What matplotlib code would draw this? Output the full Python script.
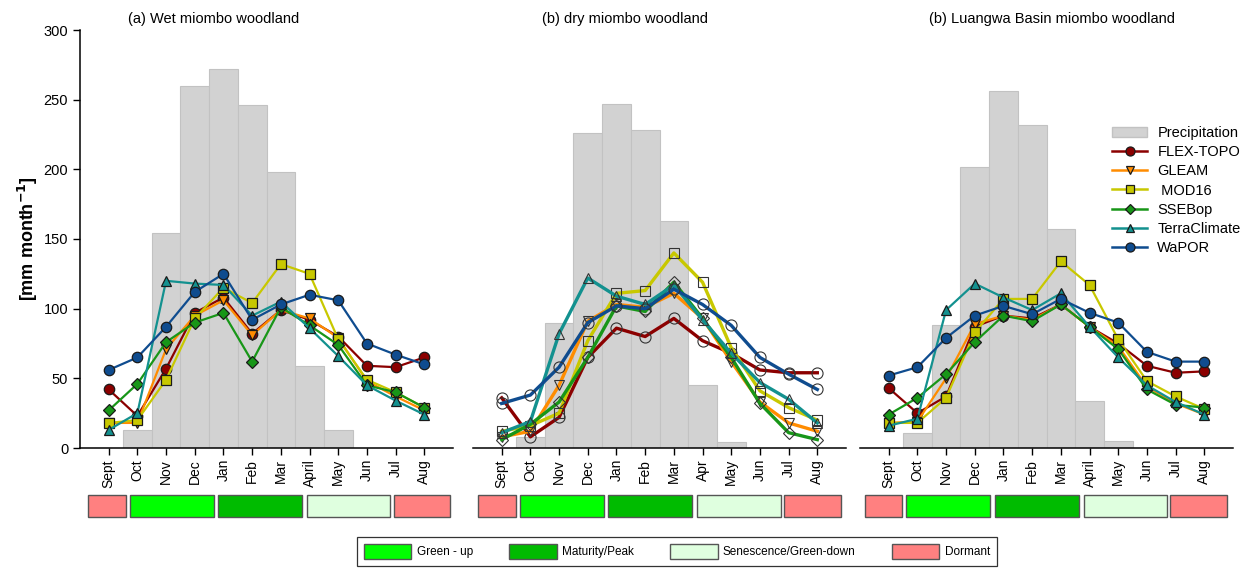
import matplotlib
matplotlib.use("Agg")
import matplotlib.pyplot as plt
from matplotlib.patches import Rectangle, Patch
from matplotlib.lines import Line2D
import numpy as np

plt.rcParams['font.family'] = ['Liberation Sans', 'DejaVu Sans']

# ---------------- data ----------------
months_a = ['Sept', 'Oct', 'Nov', 'Dec', 'Jan', 'Feb', 'Mar', 'April', 'May', 'Jun', 'Jul', 'Aug']
months_b = ['Sept', 'Oct', 'Nov', 'Dec', 'Jan', 'Feb', 'Mar', 'Apr', 'May', 'Jun', 'Jul', 'Aug']
months_c = ['Sept', 'Oct', 'Nov', 'Dec', 'Jan', 'Feb', 'Mar', 'April', 'May', 'Jun', 'Jul', 'Aug']

titles = ['(a) Wet miombo woodland', '(b) dry miombo woodland', '(b) Luangwa Basin miombo woodland']

products = ['FLEX-TOPO', 'GLEAM', ' MOD16', 'SSEBop', 'TerraClimate', 'WaPOR']

precip_a = [0, 13, 154, 260, 272, 246, 198, 59, 13, 0, 0, 0]
precip_b = [0, 8, 90, 226, 247, 228, 163, 45, 4, 0, 0, 0]
precip_c = [0, 11, 88, 202, 256, 232, 157, 34, 5, 0, 0, 0]

# panel (a) wet miombo
flex_a  = [42, 23, 57, 97, 108, 82, 99, 92, 80, 59, 58, 65]
gleam_a = [18, 18, 71, 95, 106, 81, 99, 93, 79, 48, 37, 27]
mod16_a = [18, 20, 49, 93, 115, 104, 132, 125, 78, 49, 40, 29]
ssebop_a = [27, 46, 76, 90, 97, 62, 101, 88, 74, 45, 40, 29]
terra_a = [13, 25, 120, 118, 117, 95, 105, 86, 66, 45, 34, 24]
wapor_a = [56, 65, 87, 112, 125, 92, 103, 110, 106, 75, 67, 60]

# panel (b) dry miombo
flex_b  = [36, 8, 22, 65, 86, 80, 93, 77, 68, 56, 54, 54]
gleam_b = [8, 12, 45, 91, 103, 101, 111, 93, 62, 33, 18, 12]
mod16_b = [12, 16, 25, 77, 111, 113, 140, 119, 72, 41, 29, 20]
ssebop_b = [6, 17, 33, 65, 102, 98, 119, 93, 65, 32, 11, 6]
terra_b = [11, 19, 82, 122, 109, 103, 117, 92, 68, 47, 35, 18]
wapor_b = [32, 38, 58, 90, 102, 100, 114, 103, 88, 65, 53, 42]

# panel (c) Luangwa Basin
flex_c  = [43, 25, 37, 87, 95, 93, 103, 87, 75, 59, 54, 55]
gleam_c = [18, 19, 50, 89, 95, 92, 103, 87, 73, 44, 32, 24]
mod16_c = [18, 18, 36, 83, 107, 107, 134, 117, 78, 48, 37, 28]
ssebop_c = [24, 36, 53, 76, 95, 91, 103, 87, 71, 42, 31, 29]
terra_c = [16, 21, 99, 118, 108, 99, 111, 87, 65, 45, 33, 24]
wapor_c = [52, 58, 79, 95, 102, 96, 107, 97, 90, 69, 62, 62]

phases = ['Green - up', 'Maturity/Peak', 'Senescence/Green-down', 'Dormant']
phase_colors = ['#00FF00', '#00BB00', '#DFFFDF', '#FF8080']
phase_sequence = ['Dormant', 'Green - up', 'Maturity/Peak', 'Senescence/Green-down', 'Dormant']

# ---------------- styles ----------------
colors = ['#8B0000', '#FF8C00', '#C8C800', '#189618', '#13918F', '#0F4C8F']
markers = ['o', 'v', 's', 'D', '^', 'o']
msizes = [7.5, 7, 6.5, 6, 6.5, 7.5]
precip_face = '#D2D2D2'
precip_edge = '#C2C2C2'

W, H = 1255, 573
fig = plt.figure(figsize=(W / 100, H / 100), dpi=100)

def fx(px):
    return px / W

def fy(py):
    return 1 - py / H

ax_lefts = [80, 473, 860]
ax_w = 373
ax_top, ax_bot = 30, 448
strip_top, strip_bot = 495, 517
strip_edges = [(-0.78, 0.54), (0.68, 3.6), (3.76, 6.68), (6.86, 9.76), (9.88, 11.85)]
strip_shift = [0.06, -0.04, -0.06]
title_x = [214, 625, 1052]

panels = [
    (months_a, precip_a, [flex_a, gleam_a, mod16_a, ssebop_a, terra_a, wapor_a], 'filled'),
    (months_b, precip_b, [flex_b, gleam_b, mod16_b, ssebop_b, terra_b, wapor_b], 'hollow'),
    (months_c, precip_c, [flex_c, gleam_c, mod16_c, ssebop_c, terra_c, wapor_c], 'filled'),
]

phase_color_map = dict(zip(phases, phase_colors))

for i, (months, precip, series, style) in enumerate(panels):
    ax = fig.add_axes([fx(ax_lefts[i]), fy(ax_bot), fx(ax_w), (ax_bot - ax_top) / H])
    x = np.arange(len(months))
    ax.bar(x, precip, width=1.0, color=precip_face, edgecolor=precip_edge, linewidth=0.8, zorder=1)
    for k, vals in enumerate(series):
        if style == 'filled':
            ax.plot(x, vals, color=colors[k], lw=1.6, marker=markers[k], ms=msizes[k],
                    mfc=colors[k], mec='#1a1a1a', mew=0.9, zorder=3 + k)
        else:
            ax.plot(x, vals, color=colors[k], lw=2.4, marker=markers[k], ms=msizes[k] + 0.5,
                    mfc='none', mec='#333333', mew=0.8, zorder=3 + k)
    ax.set_xlim(-1, 12)
    ax.set_ylim(0, 300)
    ax.set_xticks(x)
    ax.set_xticklabels(months, rotation=90, fontsize=10)
    ax.tick_params(axis='x', direction='out', length=5, width=1, pad=3)
    for s in ['top', 'right']:
        ax.spines[s].set_visible(False)
    ax.spines['bottom'].set_linewidth(1.1)
    if i == 0:
        ax.set_yticks(np.arange(0, 301, 50))
        ax.tick_params(axis='y', direction='out', length=5, width=1, labelsize=10.5)
        ax.spines['left'].set_linewidth(1.1)
        ax.set_ylabel('[mm month$^{\\mathbf{-1}}$]', fontsize=13, fontweight='bold')
        ax.yaxis.set_label_coords(-0.107, 0.5)
    else:
        ax.spines['left'].set_visible(False)
        ax.set_yticks([])
    ax.set_facecolor('none')
    fig.text(fx(title_x[i]), fy(19), titles[i], ha='center', va='center', fontsize=10.5)

    if i == 2:
        handles = [Patch(facecolor=precip_face, edgecolor=precip_edge, label='Precipitation')]
        for k in range(len(products)):
            handles.append(Line2D([], [], color=colors[k], lw=1.8, marker=markers[k], ms=msizes[k] - 1,
                                  mfc=colors[k], mec='#1a1a1a', mew=0.9, label=products[k]))
        fig.legend(handles=handles, loc='upper left', bbox_to_anchor=(fx(1102), fy(116)),
                   frameon=False, fontsize=10.5, handlelength=2.4, handletextpad=0.7,
                   labelspacing=0.35, borderpad=0.2)

    # phenology strip
    sax = fig.add_axes([fx(ax_lefts[i]), fy(strip_bot), fx(ax_w), (strip_bot - strip_top) / H])
    sax.set_xlim(-1, 12)
    sax.set_ylim(0, 1)
    sax.axis('off')
    for (x0, x1), ph in zip(strip_edges, phase_sequence):
        x0s, x1s = x0 + strip_shift[i], x1 + strip_shift[i]
        sax.add_patch(Rectangle((x0s, 0), x1s - x0s, 1, facecolor=phase_color_map[ph],
                                edgecolor='#555555', linewidth=1.0, clip_on=False))

# bottom phenology legend
leg_handles = [Patch(facecolor=c, edgecolor='#555555', label=p) for p, c in zip(phases, phase_colors)]
leg = fig.legend(handles=leg_handles, loc='center', ncol=4,
                 bbox_to_anchor=(fx(677), fy(551.5)),
                 fontsize=8.5, handlelength=4.0, handleheight=1.7, handletextpad=0.45,
                 columnspacing=3.1, borderpad=0.55, borderaxespad=0,
                 fancybox=False, edgecolor='#333333', framealpha=1)
leg.get_frame().set_linewidth(0.9)

fig.savefig('out.png', dpi=100)
